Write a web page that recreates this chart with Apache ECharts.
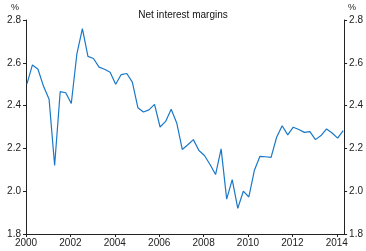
<!DOCTYPE html>
<html>
<head>
<meta charset="utf-8">
<script src="https://cdn.jsdelivr.net/npm/echarts@6/dist/echarts.min.js"></script>
<style>
html,body{margin:0;padding:0;background:#fff;}
#chart{width:366px;height:251px;}
</style>
</head>
<body>
<div id="chart"></div>
<script>
var quarters = [
 '2000Q1','2000Q2','2000Q3','2000Q4',
 '2001Q1','2001Q2','2001Q3','2001Q4',
 '2002Q1','2002Q2','2002Q3','2002Q4',
 '2003Q1','2003Q2','2003Q3','2003Q4',
 '2004Q1','2004Q2','2004Q3','2004Q4',
 '2005Q1','2005Q2','2005Q3','2005Q4',
 '2006Q1','2006Q2','2006Q3','2006Q4',
 '2007Q1','2007Q2','2007Q3','2007Q4',
 '2008Q1','2008Q2','2008Q3','2008Q4',
 '2009Q1','2009Q2','2009Q3','2009Q4',
 '2010Q1','2010Q2','2010Q3','2010Q4',
 '2011Q1','2011Q2','2011Q3','2011Q4',
 '2012Q1','2012Q2','2012Q3','2012Q4',
 '2013Q1','2013Q2','2013Q3','2013Q4',
 '2014Q1','2014Q2'
];
var netInterestMargin = [
 2.50, 2.59, 2.57, 2.49,
 2.43, 2.12, 2.465, 2.46,
 2.41, 2.64, 2.76, 2.63,
 2.62, 2.58, 2.57, 2.556,
 2.50, 2.545, 2.55, 2.51,
 2.39, 2.37, 2.38, 2.406,
 2.30, 2.326, 2.383, 2.319,
 2.195, 2.217, 2.241, 2.19,
 2.167, 2.125, 2.078, 2.198,
 1.963, 2.054, 1.92, 2.00,
 1.973, 2.098, 2.163, 2.161,
 2.158, 2.252, 2.306, 2.263,
 2.299, 2.288, 2.275, 2.278,
 2.241, 2.26, 2.291, 2.272,
 2.248, 2.283
];
var yearTicks = [2000, 2002, 2004, 2006, 2008, 2010, 2012, 2014];
var yTicks = [1.8, 2.0, 2.2, 2.4, 2.6, 2.8];
var title = 'Net interest margins';
var unit = '%';

function quarterToYear(q) {
  var y = parseInt(q.slice(0, 4), 10);
  var n = parseInt(q.slice(5), 10);
  return y + (n - 1) / 4 + 0.04;
}
var seriesData = quarters.map(function (q, i) { return [quarterToYear(q), netInterestMargin[i]]; });

var FONT = 'Liberation Sans, Arial, sans-serif';
var axisCol = '#222';
var chart = echarts.init(document.getElementById('chart'), null, {renderer: 'canvas'});

function yAxisDef(pos) {
  return {
    type: 'value', position: pos, min: 1.8, max: 2.8, interval: 0.2,
    axisLine: {show: true, lineStyle: {color: axisCol, width: 1}},
    axisTick: {show: true, length: 3, lineStyle: {color: axisCol}},
    splitLine: {show: false},
    axisLabel: {color: '#222', fontFamily: FONT, fontSize: 10, margin: 5,
      formatter: function (v) { return v.toFixed(1); }}
  };
}

chart.setOption({
  animation: false,
  backgroundColor: '#fff',
  title: {text: title, left: 'center', top: 5,
    textStyle: {fontFamily: FONT, fontSize: 10, fontWeight: 'normal', color: '#111'}},
  graphic: [
    {type: 'text', left: 11, top: 3, style: {text: unit, font: '9px ' + FONT, fill: '#222'}},
    {type: 'text', left: 348, top: 3, style: {text: unit, font: '9px ' + FONT, fill: '#222'}}
  ],
  grid: {left: 26, right: 21, top: 20, bottom: 17, containLabel: false},
  xAxis: {
    type: 'value', min: 2000, max: 2014.33,
    axisLine: {show: true, onZero: false, lineStyle: {color: axisCol, width: 1}},
    axisTick: {show: true, length: 3, customValues: yearTicks, lineStyle: {color: axisCol}},
    splitLine: {show: false},
    axisLabel: {customValues: yearTicks, color: '#222', fontFamily: FONT, fontSize: 10, margin: 4,
      formatter: function (v) { return String(Math.round(v)); }}
  },
  yAxis: [yAxisDef('left'), yAxisDef('right')],
  series: [{
    type: 'line', data: seriesData, showSymbol: false, symbol: 'none',
    lineStyle: {color: '#1a78c8', width: 1.2}
  }]
});
</script>
</body>
</html>
